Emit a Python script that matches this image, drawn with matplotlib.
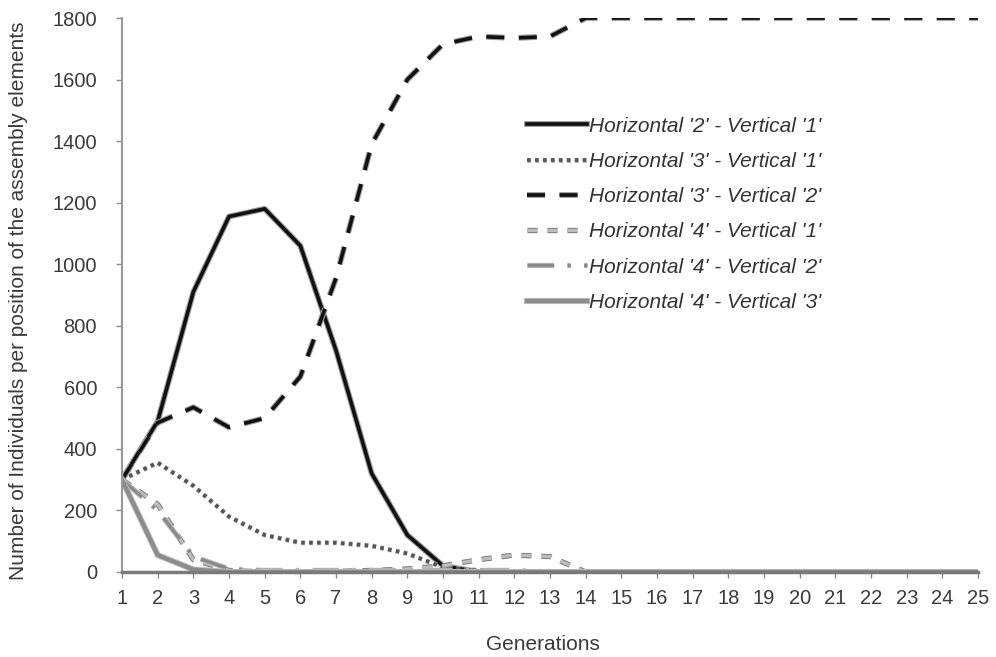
import matplotlib
matplotlib.use("Agg")
import matplotlib.pyplot as plt
import matplotlib.patheffects as pe

generations = list(range(1, 26))

h2_v1 = [300, 490, 910, 1155, 1180, 1060, 720, 320, 120, 20, 0, 0, 0, 0, 0, 0, 0, 0, 0, 0, 0, 0, 0, 0, 0]
h3_v1 = [300, 355, 280, 180, 120, 95, 95, 85, 60, 15, 5, 0, 0, 0, 0, 0, 0, 0, 0, 0, 0, 0, 0, 0, 0]
h3_v2 = [300, 485, 535, 470, 500, 635, 955, 1390, 1600, 1715, 1740, 1735, 1740, 1800, 1800, 1800, 1800,
         1800, 1800, 1800, 1800, 1800, 1800, 1800, 1800]
h4_v1 = [300, 220, 40, 5, 0, 0, 2, 5, 10, 20, 40, 55, 50, 0, 0, 0, 0, 0, 0, 0, 0, 0, 0, 0, 0]
h4_v2 = [300, 200, 50, 10, 5, 5, 5, 5, 5, 5, 5, 5, 0, 0, 0, 0, 0, 0, 0, 0, 0, 0, 0, 0, 0]
h4_v3 = [300, 55, 8, 0, 0, 0, 0, 0, 0, 0, 0, 0, 0, 0, 0, 0, 0, 0, 0, 0, 0, 0, 0, 0, 0]

labels = ["Horizontal '2' - Vertical '1'", "Horizontal '3' - Vertical '1'",
          "Horizontal '3' - Vertical '2'", "Horizontal '4' - Vertical '1'",
          "Horizontal '4' - Vertical '2'", "Horizontal '4' - Vertical '3'"]
y_ticks = [0, 200, 400, 600, 800, 1000, 1200, 1400, 1600, 1800]

plt.rcParams['font.family'] = ['Liberation Sans', 'DejaVu Sans']

fig = plt.figure(figsize=(9.96, 6.57), dpi=100)
ax = fig.add_axes([0.1225, 0.1294, 0.8595, 0.8432])

halo = [pe.Stroke(linewidth=4.2, foreground="#9a9a9a"), pe.Normal()]
halo_thin = [pe.Stroke(linewidth=3.6, foreground="#b0b0b0"), pe.Normal()]

ax.plot(generations, h2_v1, color="#111111", lw=2.6, ls="-", label=labels[0],
        path_effects=halo)
ax.plot(generations, h3_v1, color="#555555", lw=2.6, ls=(0, (1, 1.2)), label=labels[1],
        path_effects=halo_thin)
ax.plot(generations, h3_v2, color="#111111", lw=2.6, ls=(0, (5, 4)), label=labels[2],
        path_effects=halo)
ax.plot(generations, h4_v1, color="#bdbdbd", lw=2.4, ls=(0, (3, 3)), label=labels[3],
        path_effects=[pe.Stroke(linewidth=3.8, foreground="#7a7a7a"), pe.Normal()])
ax.plot(generations, h4_v2, color="#8a8a8a", lw=2.4, ls=(0, (8, 4, 1, 4)), label=labels[4],
        path_effects=[pe.Stroke(linewidth=3.8, foreground="#bbbbbb"), pe.Normal()])
ax.plot(generations, h4_v3, color="#8c8c8c", lw=3.0, ls="-", label=labels[5],
        path_effects=[pe.Stroke(linewidth=4.4, foreground="#bbbbbb"), pe.Normal()])

ax.set_xlim(1, 25)
ax.set_ylim(0, 1800)
ax.set_xticks(generations)
ax.set_yticks(y_ticks)
ax.tick_params(axis="both", colors="#8a8a8a", labelcolor="#3a3a3a", labelsize=14.5,
               length=4, width=1, direction="out")
ax.tick_params(axis="x", pad=8)
ax.tick_params(axis="y", pad=14)

for side in ("top", "right"):
    ax.spines[side].set_visible(False)
ax.spines["left"].set_color("#9a9a9a")
ax.spines["left"].set_linewidth(1.5)
ax.spines["bottom"].set_color("#7a7a7a")
ax.spines["bottom"].set_linewidth(2.5)

ax.set_xlabel("Generations", fontsize=15, color="#3a3a3a")
ax.xaxis.set_label_coords(0.492, -0.113)
ax.set_ylabel("Number of Individuals per position of the assembly elements", fontsize=15,
              color="#3a3a3a", va="center")
ax.yaxis.set_label_coords(-0.121, 0.49)

leg = ax.legend(loc="upper left", bbox_to_anchor=(0.473, 0.822), frameon=False,
                prop={"style": "italic", "size": 15}, handlelength=2.9,
                handletextpad=0.1, labelspacing=0.78, borderpad=0, borderaxespad=0,
                labelcolor="#333333")

fig.savefig("out.png", dpi=100)
